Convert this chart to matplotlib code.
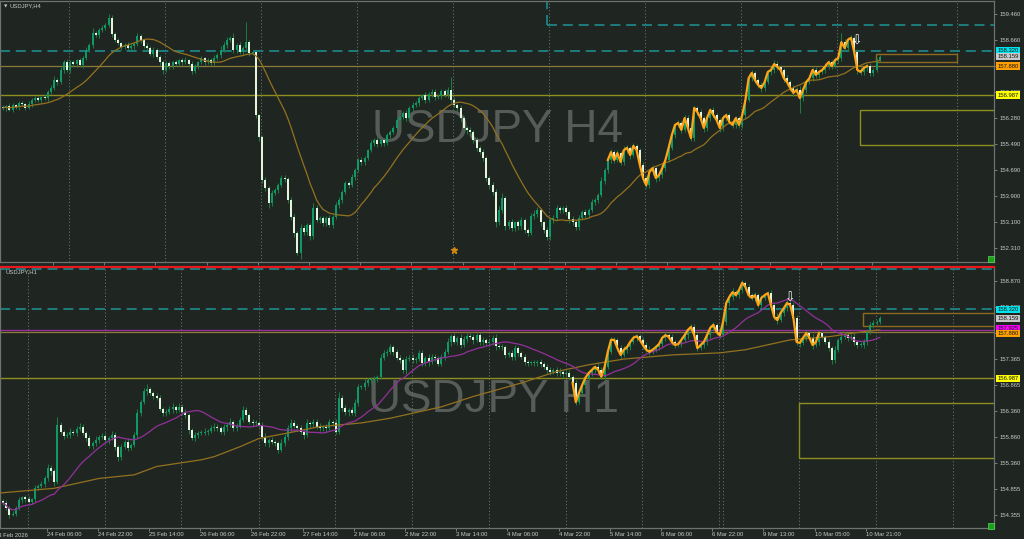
import matplotlib
matplotlib.use("Agg")
import matplotlib.pyplot as plt
from matplotlib.patches import Rectangle
from matplotlib.transforms import blended_transform_factory
import numpy as np
import pandas as pd

plt.rcParams['font.family'] = ['Liberation Sans', 'DejaVu Sans']

# ------------------------------------------------------------------ data
# USDJPY H4 closes (open of each bar = previous close)
h4_first_open = 156.62
h4_close = [
    156.59, 156.65, 156.53, 156.68, 156.62, 156.74, 156.71, 156.59, 156.71, 156.83,
    156.89, 156.83, 156.92, 156.89, 157.08, 157.20, 157.44, 157.38, 157.75, 157.99,
    157.75, 157.99, 157.93, 158.05, 157.90, 158.11, 158.36, 158.51, 158.88, 158.82,
    158.97, 159.03, 159.12, 159.34, 158.85, 158.67, 158.57, 158.45, 158.51, 158.42,
    158.48, 158.54, 158.79, 158.67, 158.48, 158.42, 158.24, 158.36, 158.15, 157.99,
    157.75, 157.96, 157.87, 157.99, 157.93, 158.05, 157.99, 158.05, 157.93, 157.72,
    157.87, 157.99, 158.11, 157.99, 158.05, 157.96, 158.11, 158.21, 158.36, 158.51,
    158.67, 158.73, 158.36, 158.51, 158.30, 158.42, 158.60, 158.27, 158.30, 156.37,
    155.70, 154.39, 154.14, 153.69, 153.99, 154.08, 154.23, 154.45, 154.43, 153.78,
    153.26, 152.77, 152.16, 152.92, 152.80, 153.01, 152.68, 153.53, 153.17, 153.23,
    153.07, 153.23, 153.01, 153.26, 153.62, 153.78, 154.02, 154.30, 154.24, 154.48,
    154.69, 155.00, 154.94, 155.06, 155.30, 155.52, 155.61, 155.49, 155.61, 155.52,
    155.76, 155.85, 155.98, 156.22, 156.31, 156.43, 156.28, 156.59, 156.68, 156.74,
    156.89, 156.98, 156.83, 157.01, 157.08, 156.92, 156.95, 157.11, 156.98, 157.14,
    156.83, 156.68, 156.59, 156.28, 155.98, 155.92, 155.85, 155.61, 155.37, 155.24,
    155.06, 154.45, 154.23, 154.02, 153.10, 153.47, 153.84, 152.98, 153.10, 152.92,
    153.10, 152.98, 153.17, 152.86, 152.77, 153.29, 153.35, 153.47, 153.10, 152.86,
    152.65, 153.17, 153.23, 153.53, 153.47, 153.53, 153.41, 153.20, 153.10, 152.95,
    153.23, 153.41, 153.32, 153.47, 153.72, 153.78, 153.93, 154.36, 154.69, 155.00,
    155.24, 155.00, 155.21, 154.94, 155.30, 155.37, 155.15, 155.43, 155.30, 154.85,
    154.45, 154.23, 154.63, 154.75, 154.45, 154.54, 154.75, 155.00, 155.37, 155.76,
    156.07, 156.13, 155.92, 156.28, 155.98, 155.67, 156.59, 156.46, 156.28, 155.98,
    156.28, 156.53, 156.37, 156.22, 155.98, 156.28, 156.37, 156.16, 156.07, 156.28,
    156.07, 156.37, 156.83, 157.50, 157.66, 157.44, 157.29, 157.20, 157.38, 157.69,
    157.75, 157.93, 157.84, 157.75, 157.50, 157.38, 157.20, 157.05, 157.14, 156.89,
    157.14, 157.38, 157.50, 157.75, 157.60, 157.69, 157.75, 157.87, 157.99, 157.87,
    158.05, 158.11, 158.60, 158.42, 158.67, 158.73, 158.30, 157.75, 157.69, 157.81,
    157.87, 157.66, 157.75, 158.05, 158.16,
]
# wick lengths above / below the body, in 0.01 yen
h4_wick_hi = [
    6, 4, 8, 5, 3, 7, 5, 4, 9, 6,   5, 8, 4, 6, 7, 10, 12, 5, 8, 6,
    9, 5, 7, 4, 6, 8, 10, 6, 15, 7,  5, 8, 6, 12, 9, 5, 7, 4, 6, 8,
    5, 7, 10, 6, 4, 8, 5, 9, 6, 7,   8, 5, 6, 4, 7, 5, 6, 9, 5, 8,
    6, 4, 7, 5, 8, 6, 9, 5, 12, 8,   10, 6, 14, 5, 8, 6, 61, 7, 5, 4,
    5, 5, 8, 6, 10, 5, 7, 9, 8, 6,   8, 10, 6, 12, 9, 7, 5, 15, 8, 6,
    7, 5, 9, 6, 10, 8, 6, 7, 5, 9,   8, 6, 10, 7, 5, 9, 6, 8, 7, 5,
    6, 8, 5, 9, 7, 6, 10, 5, 8, 6,   7, 5, 9, 6, 8, 10, 6, 7, 5, 8,
    40, 8, 6, 9, 5, 7, 10, 6, 8, 5,  9, 7, 6, 10, 8, 12, 15, 7, 6, 9,
    5, 8, 10, 6, 7, 9, 12, 8, 6, 5,  10, 6, 8, 9, 7, 5, 10, 6, 8, 7,
    9, 6, 8, 5, 10, 7, 6, 12, 8, 6,  10, 7, 9, 6, 12, 8, 7, 10, 6, 8,
    9, 6, 8, 10, 5, 7, 9, 6, 12, 8,  7, 10, 6, 9, 8, 12, 7, 6, 10, 5,
    8, 6, 9, 7, 5, 10, 8, 6, 9, 7,   6, 8, 10, 12, 9, 7, 6, 8, 10, 7,
    9, 12, 8, 6, 7, 10, 6, 8, 9, 12, 7, 6, 10, 8, 9, 6, 7, 10, 8, 6,
    9, 7, 28, 10, 8, 9, 6, 10, 8, 7, 6, 9, 7, 8, 6,
]
h4_wick_lo = [
    5, 8, 4, 7, 6, 9, 5, 6, 4, 8,    6, 5, 9, 7, 8, 6, 5, 10, 6, 8,
    7, 10, 5, 8, 6, 9, 7, 5, 8, 6,   9, 5, 7, 6, 10, 8, 6, 9, 5, 7,
    6, 8, 5, 9, 7, 10, 6, 8, 5, 9,   12, 6, 8, 10, 7, 5, 9, 6, 8, 10,
    7, 9, 5, 8, 6, 10, 7, 5, 8, 6,   9, 6, 8, 10, 7, 9, 12, 8, 6, 10,
    12, 8, 10, 15, 9, 7, 8, 6, 10, 8, 10, 12, 6, 20, 9, 8, 12, 10, 7, 9,
    8, 10, 6, 9, 7, 8, 10, 6, 9, 7,  8, 6, 9, 10, 7, 6, 8, 9, 6, 10,
    7, 9, 6, 8, 10, 7, 9, 6, 8, 7,   9, 6, 8, 7, 10, 8, 6, 9, 7, 8,
    9, 7, 10, 8, 6, 12, 8, 9, 10, 7, 8, 10, 12, 9, 15, 10, 8, 12, 9, 10,
    8, 12, 9, 10, 8, 7, 10, 9, 12, 10, 8, 10, 9, 7, 8, 10, 9, 12, 8, 10,
    9, 7, 10, 8, 6, 9, 8, 7, 10, 8,  8, 10, 7, 9, 8, 10, 12, 7, 9, 10,
    12, 9, 8, 10, 12, 8, 9, 10, 7, 8, 9, 7, 10, 8, 12, 9, 8, 10, 9, 12,
    8, 10, 7, 9, 12, 8, 10, 7, 9, 8, 10, 8, 9, 7, 8, 10, 9, 12, 8, 7,
    8, 10, 9, 7, 12, 9, 10, 8, 9, 46, 8, 10, 7, 9, 8, 10, 7, 9, 8, 10,
    7, 9, 8, 10, 9, 7, 10, 12, 9, 8, 10, 8, 9, 7, 6,
]

# USDJPY H1 closes (open of each bar = previous close)
h1_first_open = 154.62
h1_close = [
    154.59, 154.49, 154.36, 154.38, 154.49, 154.65, 154.70, 154.66, 154.61, 154.66,
    154.88, 154.91, 154.95, 155.07, 155.26, 155.20, 154.99, 156.09, 155.96, 155.88,
    155.90, 155.96, 155.94, 156.01, 156.05, 155.94, 155.84, 155.69, 155.74, 155.80,
    155.86, 155.88, 155.80, 155.84, 155.90, 155.67, 155.47, 155.67, 155.76, 155.65,
    155.70, 155.90, 156.32, 156.53, 156.74, 156.78, 156.71, 156.65, 156.61, 156.40,
    156.32, 156.34, 156.40, 156.44, 156.38, 156.44, 156.34, 156.28, 155.99, 155.84,
    155.90, 155.94, 155.94, 155.96, 155.97, 156.03, 156.05, 156.03, 155.96, 156.05,
    156.09, 156.15, 156.03, 156.07, 156.19, 156.38, 156.28, 156.15, 156.13, 156.13,
    156.09, 155.86, 155.74, 155.80, 155.76, 155.74, 155.61, 155.74, 155.86, 156.03,
    156.13, 156.07, 156.03, 155.96, 155.90, 156.13, 156.11, 156.15, 156.05, 156.03,
    156.05, 156.03, 156.15, 156.13, 155.96, 156.61, 156.42, 156.34, 156.38, 156.32,
    156.51, 156.82, 156.82, 156.90, 156.96, 156.96, 156.98, 157.02, 157.38, 157.48,
    157.50, 157.59, 157.50, 157.38, 157.34, 157.15, 157.36, 157.38, 157.34, 157.36,
    157.48, 157.28, 157.38, 157.30, 157.40, 157.38, 157.27, 157.40, 157.50, 157.69,
    157.80, 157.69, 157.77, 157.63, 157.75, 157.80, 157.79, 157.73, 157.82, 157.69,
    157.73, 157.67, 157.69, 157.77, 157.61, 157.59, 157.59, 157.44, 157.48, 157.40,
    157.57, 157.48, 157.40, 157.30, 157.28, 157.28, 157.28, 157.30, 157.27, 157.21,
    157.15, 157.11, 157.15, 157.09, 157.11, 157.07, 157.09, 157.02, 156.90, 156.53,
    156.71, 156.86, 157.00, 157.09, 157.15, 157.21, 157.15, 157.02, 157.21, 157.50,
    157.73, 157.73, 157.57, 157.44, 157.54, 157.59, 157.69, 157.77, 157.80, 157.73,
    157.63, 157.54, 157.50, 157.54, 157.59, 157.65, 157.77, 157.82, 157.79, 157.69,
    157.63, 157.65, 157.73, 157.82, 157.92, 157.98, 157.82, 157.57, 157.63, 157.69,
    157.82, 157.96, 158.02, 157.88, 157.82, 158.07, 158.44, 158.56, 158.65, 158.59,
    158.69, 158.83, 158.75, 158.59, 158.54, 158.59, 158.40, 158.54, 158.59, 158.63,
    158.40, 158.17, 158.11, 158.25, 158.34, 158.44, 158.40, 158.15, 157.69, 157.67,
    157.77, 157.86, 157.77, 157.63, 157.69, 157.86, 157.79, 157.69, 157.57, 157.34,
    157.54, 157.73, 157.79, 157.82, 157.77, 157.79, 157.69, 157.63, 157.63, 157.69,
    157.88, 158.02, 158.06, 158.07, 158.16,
]
h1_wick_hi = [
    4, 5, 3, 6, 4, 5, 3, 4, 6, 3,   5, 4, 6, 3, 8, 5, 4, 15, 6, 4,
    5, 7, 4, 6, 8, 5, 4, 6, 5, 7,   4, 6, 5, 3, 7, 5, 4, 6, 5, 8,
    4, 6, 8, 5, 7, 10, 5, 4, 6, 5,  4, 6, 5, 7, 4, 8, 5, 6, 4, 5,
    6, 4, 5, 7, 4, 6, 8, 5, 4, 6,   5, 7, 4, 6, 5, 8, 6, 4, 5, 6,
    4, 5, 7, 4, 6, 5, 4, 8, 5, 6,   7, 5, 4, 6, 5, 8, 4, 6, 5, 7,
    4, 6, 5, 4, 7, 12, 6, 5, 4, 6,  8, 6, 5, 7, 4, 6, 5, 4, 8, 6,
    5, 7, 4, 6, 5, 4, 6, 5, 7, 4,   6, 5, 4, 7, 5, 6, 4, 5, 6, 8,
    5, 6, 4, 7, 5, 6, 8, 5, 4, 6,   5, 4, 6, 5, 7, 4, 6, 5, 4, 6,
    7, 5, 4, 6, 5, 4, 6, 5, 7, 4,   5, 6, 4, 5, 7, 4, 6, 5, 4, 6,
    5, 7, 4, 6, 5, 4, 7, 5, 6, 8,   6, 5, 4, 6, 7, 5, 4, 6, 5, 4,
    6, 5, 7, 4, 5, 6, 4, 7, 5, 6,   4, 6, 5, 7, 4, 5, 6, 4, 5, 7,
    4, 6, 5, 4, 6, 8, 6, 5, 7, 5,   6, 5, 4, 6, 5, 7, 4, 6, 5, 4,
    6, 5, 7, 4, 6, 5, 4, 6, 5, 7,   4, 6, 5, 7, 4, 6, 5, 4, 6, 5,
    7, 4, 5, 6, 4, 5, 7, 4, 6, 5,   4, 6, 5, 4, 3,
]
h1_wick_lo = [
    5, 4, 6, 3, 5, 4, 6, 5, 3, 4,   6, 5, 4, 6, 5, 7, 8, 4, 5, 6,
    4, 6, 5, 7, 4, 5, 6, 4, 7, 5,   6, 4, 5, 7, 4, 6, 8, 5, 4, 6,
    5, 4, 6, 5, 4, 7, 5, 6, 4, 5,   6, 5, 4, 7, 5, 4, 6, 5, 7, 4,
    5, 6, 4, 5, 7, 4, 6, 5, 4, 6,   7, 4, 5, 6, 4, 5, 7, 4, 6, 5,
    4, 6, 5, 7, 4, 6, 5, 4, 6, 5,   7, 4, 6, 5, 8, 4, 6, 5, 4, 6,
    5, 7, 4, 6, 5, 4, 6, 5, 7, 4,   6, 5, 4, 6, 5, 7, 4, 6, 5, 4,
    6, 5, 7, 4, 6, 5, 8, 4, 6, 5,   4, 6, 5, 7, 4, 6, 5, 4, 6, 5,
    7, 4, 6, 5, 4, 6, 5, 7, 4, 6,   5, 4, 6, 5, 7, 4, 6, 5, 4, 6,
    5, 7, 4, 6, 5, 4, 6, 5, 7, 4,   6, 5, 4, 6, 5, 7, 4, 6, 5, 6,
    4, 6, 5, 4, 6, 5, 7, 4, 6, 5,   4, 6, 5, 7, 4, 6, 5, 4, 6, 5,
    7, 4, 6, 5, 4, 6, 5, 7, 4, 6,   5, 4, 6, 5, 7, 4, 6, 5, 4, 6,
    5, 7, 4, 6, 5, 4, 6, 5, 7, 4,   6, 5, 4, 6, 5, 7, 4, 6, 5, 4,
    6, 5, 7, 4, 6, 5, 4, 6, 5, 7,   4, 6, 5, 7, 4, 6, 5, 4, 6, 8,
    5, 4, 6, 5, 7, 4, 6, 5, 4, 6,   5, 4, 6, 5, 4,
]
# slow moving average on H1
h1_slow_ma_bar = [-1, 16, 30, 41, 48, 62, 66, 74, 80, 91, 99, 105, 112, 121, 137,
                  147, 162, 173, 183, 194, 209, 224, 232, 246, 258, 269, 274]
h1_slow_ma_val = [154.78, 154.87, 155.06, 155.13, 155.29, 155.42, 155.48, 155.67,
                  155.83, 155.96, 156.06, 156.09, 156.13, 156.22, 156.44, 156.64,
                  156.90, 157.12, 157.25, 157.36, 157.44, 157.48, 157.54, 157.73,
                  157.79, 157.89, 157.92]

h4_ticks = [159.460, 158.660, 157.870, 157.080, 156.280, 155.490, 154.690,
            153.900, 153.100, 152.310]
h4_tick_text = ["159.460", "158.660", "", "157.080", "156.280", "155.490",
                "154.690", "153.900", "153.100", "152.310"]
h1_ticks = [158.870, 158.370, 157.865, 157.365, 156.865, 156.360, 155.860,
            155.360, 154.855, 154.355]
h1_tick_text = ["158.870", "158.370", "", "157.365", "156.865", "156.360",
                "155.860", "155.360", "154.855", "154.355"]
h1_time_labels = ["24 Feb 06:00", "24 Feb 22:00", "25 Feb 14:00", "26 Feb 06:00",
                  "26 Feb 22:00", "27 Feb 14:00", "2 Mar 06:00", "2 Mar 22:00",
                  "3 Mar 14:00", "4 Mar 06:00", "4 Mar 22:00", "5 Mar 14:00",
                  "6 Mar 06:00", "6 Mar 22:00", "9 Mar 13:00", "10 Mar 05:00",
                  "10 Mar 21:00"]
h1_first_label = "23 Feb 2026"

level_res_dash = 158.320     # cyan dashed
level_top_dash = 159.124     # cyan dashed (H4, right part)
level_bid = 158.159
level_tan = 157.880
level_purple = 157.925
level_yellow = 156.987
zone_lo, zone_hi = 155.45, 156.52
box_lo, box_hi = 157.99, 158.25

# ------------------------------------------------------------------ style
BG = '#1f2622'
BULL = '#0d9a68'
BEAR = '#e3f4dd'
WICK = '#1f7d42'
GRIDC = '#68716c'
TXT = '#c6cac8'
CYAN = '#1d8b8e'
TAN = '#8e7a36'
OLIVE = '#8f8f1d'
PURPLE = '#93309a'
MA_TAN = '#93711f'
ORANGE = '#ffa414'
SPINE = '#6e7270'
WM = '#575c59'

W, H = 1024, 539
fig = plt.figure(figsize=(W / 100, H / 100), dpi=100, facecolor=BG)


def fx(px):
    return px / W


def fy(py):
    return 1 - py / H


SP = 3.2          # pixels per bar
X0 = 3.0          # pixel of bar 0
x_left = (0 - X0) / SP
x_right = (994 - X0) / SP

ax1 = fig.add_axes([0, fy(262), fx(994), (262 - 1) / H], facecolor=BG)
ax2 = fig.add_axes([0, fy(528), fx(994), (528 - 267) / H], facecolor=BG)

ax1.set_ylim(159.888 - 262 / 32.73, 159.888 - 1 / 32.73)
ax2.set_ylim(159.115 - 260 / 51.9, 159.134)
for ax in (ax1, ax2):
    ax.set_xlim(x_left, x_right)
    for s in ax.spines.values():
        s.set_color(SPINE)
        s.set_linewidth(0.9)
ax2.spines['top'].set_color('#e8191c')
ax2.spines['top'].set_linewidth(1.6)


def candles(ax, first_open, close, whi, wlo, min_body):
    n = min(len(close), len(whi), len(wlo))
    c = np.array(close[:n], dtype=float)
    o = np.concatenate([[first_open], c[:-1]])
    idx = np.arange(n)
    hi = np.maximum(o, c) + np.array(whi[:n]) / 100
    lo = np.minimum(o, c) - np.array(wlo[:n]) / 100
    ax.vlines(idx, lo, hi, color=WICK, lw=0.7, zorder=3)
    up = c >= o
    bottom = np.minimum(o, c)
    height = np.maximum(np.abs(c - o), min_body)
    ax.bar(idx[up], height[up], bottom=bottom[up], width=0.62, color=BULL,
           linewidth=0, zorder=4)
    ax.bar(idx[~up], height[~up], bottom=bottom[~up], width=0.62, color=BEAR,
           linewidth=0, zorder=4)
    return idx, c


# ---------------------------------------------------------------- grids
h4_grid_bars = [20.6, 50.6, 80.6, 110.6, 140.6, 170.6, 200.6, 230.6, 260.6, 298.1]
h1_grid_bars = [7.7, 31.8, 55.6, 80.0, 103.7, 127.9, 151.9, 175.8, 199.8, 223.8,
                224.9, 248.7, 272.8, 296.9]
for gx in h4_grid_bars:
    ax1.axvline(gx, color=GRIDC, lw=0.7, ls=(0, (1.2, 2.2)), zorder=1)
for gx in h1_grid_bars:
    ax2.axvline(gx, color=GRIDC, lw=0.7, ls=(0, (1.2, 2.2)), zorder=1)

# ---------------------------------------------------------------- watermarks
ax1.text(0.501, 0.505, "USDJPY H4", transform=ax1.transAxes, ha='center',
         va='center', fontsize=33, color=WM, zorder=0.5)
ax2.text(0.496, 0.49, "USDJPY H1", transform=ax2.transAxes, ha='center',
         va='center', fontsize=33, color=WM, zorder=0.5)

# ---------------------------------------------------------------- H4 panel
dash = (0, (6, 3.5))
ax1.axhline(level_res_dash, color=CYAN, lw=1.2, ls=dash, zorder=2)
bx = (547 - X0) / SP
ax1.hlines(level_top_dash, bx, x_right, color=CYAN, lw=1.2, ls=dash, zorder=2)
ax1.vlines(bx, level_top_dash, 160.5, color=CYAN, lw=1.2, ls=dash, zorder=2)
ax1.axhline(level_tan, color=TAN, lw=0.9, zorder=2)
ax1.axhline(level_yellow, color=OLIVE, lw=1.0, zorder=2)
zx = (860 - X0) / SP
ax1.add_patch(Rectangle((zx, zone_lo), x_right + 5 - zx, zone_hi - zone_lo,
                        fill=False, ec=OLIVE, lw=1.0, zorder=2))
sx0, sx1 = (876 - X0) / SP, (957 - X0) / SP
ax1.add_patch(Rectangle((sx0, box_lo), sx1 - sx0, box_hi - box_lo,
                        fill=False, ec='#8c6a1f', lw=1.0, zorder=2))

i4, c4 = candles(ax1, h4_first_open, h4_close, h4_wick_hi, h4_wick_lo, 0.025)
ma4 = pd.Series(c4).rolling(20, min_periods=1).mean()
ax1.plot(i4, ma4, color=MA_TAN, lw=0.9, zorder=5)
ax1.plot(i4[189:271], c4[189:271], color=ORANGE, lw=1.6, zorder=6,
         solid_joinstyle='round')
ax1.text((857 - X0) / SP, 158.64, "\u21e9", ha='center', va='center',
         fontsize=9, color='white', zorder=7, family='DejaVu Sans')
ax1.plot([(454 - X0) / SP], [152.25], marker='*', ms=4.5, color='#d4870e',
         zorder=7)

# ---------------------------------------------------------------- H1 panel
ax2.axhline(level_res_dash, color=CYAN, lw=1.2, ls=dash, zorder=2)
ax2.axhline(159.09, color=CYAN, lw=1.2, ls=dash, zorder=2)
ax2.axhline(level_purple, color=PURPLE, lw=1.0, zorder=2)
ax2.axhline(level_tan, color=TAN, lw=0.9, zorder=2)
ax2.axhline(level_yellow, color=OLIVE, lw=1.0, zorder=2)
zx2 = (799 - X0) / SP
ax2.add_patch(Rectangle((zx2, zone_lo), x_right + 5 - zx2, zone_hi - zone_lo,
                        fill=False, ec=OLIVE, lw=1.0, zorder=2))
bx2 = (863 - X0) / SP
ax2.add_patch(Rectangle((bx2, box_lo), x_right + 5 - bx2, box_hi - box_lo,
                        fill=False, ec='#8c6a1f', lw=1.0, zorder=2))

i1, c1 = candles(ax2, h1_first_open, h1_close, h1_wick_hi, h1_wick_lo, 0.015)
ma1 = pd.Series(c1).rolling(20, min_periods=1).mean()
ax2.plot(h1_slow_ma_bar, h1_slow_ma_val, color=MA_TAN, lw=0.9, zorder=5)
ax2.plot(i1, ma1, color=PURPLE, lw=0.9, zorder=5)
ax2.plot(i1[178:256], c1[178:256], color=ORANGE, lw=1.6, zorder=6,
         solid_joinstyle='round')
ax2.text((790 - X0) / SP, 158.54, "\u21e9", ha='center', va='center',
         fontsize=9, color='white', zorder=7, family='DejaVu Sans')

# ---------------------------------------------------------------- axes ticks
for ax, ticks, texts in ((ax1, h4_ticks, h4_tick_text), (ax2, h1_ticks, h1_tick_text)):
    ax.yaxis.tick_right()
    ax.set_yticks(ticks)
    ax.set_yticklabels(texts)
    ax.tick_params(axis='y', length=2.5, width=0.6, color='#8a8a8a',
                   labelsize=4.2, labelcolor=TXT, pad=1.5)

h4_tick_bars = [15.6 + 16 * k for k in range(17)]
ax1.set_xticks(h4_tick_bars)
ax1.set_xticklabels([])
ax1.tick_params(axis='x', length=2, width=0.6, color='#8a8a8a', direction='out')

lab_bars = [(46.7 - X0) / SP + 16 * k for k in range(len(h1_time_labels))]
ax2.set_xticks(lab_bars)
ax2.set_xticklabels(h1_time_labels)
ax2.tick_params(axis='x', length=2, width=0.6, color='#8a8a8a',
                labelsize=4.2, labelcolor=TXT, pad=1.2)
for lab in ax2.get_xticklabels():
    lab.set_ha('left')
ax2.text(lab_bars[0] - 16 - 0.3, -0.018, h1_first_label,
         transform=blended_transform_factory(ax2.transData, ax2.transAxes),
         ha='left', va='top', fontsize=4.2, color=TXT, clip_on=False)


# ---------------------------------------------------------------- price tags
def tag(ax, price, text, fc, tc='#101418'):
    tr = blended_transform_factory(ax.transAxes, ax.transData)
    ax.text(1.0035, price, text, transform=tr, fontsize=4.2, ha='left',
            va='center', color=tc, clip_on=False, zorder=10,
            bbox=dict(boxstyle='square,pad=0.18', fc=fc, ec='none'))


tag(ax1, 158.33, "158.320", '#00e3ea')
tag(ax1, 158.15, "158.159", '#c8c8c8')
tag(ax1, 157.87, "157.880", '#ffa000')
tag(ax1, 156.985, "156.987", '#ffff00')

tag(ax2, 158.32, "158.320", '#00e3ea')
tag(ax2, 158.15, "158.159", '#c8c8c8')
tag(ax2, 157.94, "157.925", '#ff00ff')
tag(ax2, 157.85, "157.880", '#ffa000')
tag(ax2, 156.99, "156.987", '#ffff00')

# ---------------------------------------------------------------- titles etc
fig.text(fx(4), fy(6), "\u25bc", fontsize=3.2, color=TXT, va='center',
         family='DejaVu Sans')
fig.text(fx(10), fy(6), "USDJPY,H4", fontsize=4.2, color=TXT, va='center')
fig.text(fx(5), fy(272), "USDJPY,H1", fontsize=4.2, color=TXT, va='center')

for py in (256, 523):
    fig.add_artist(Rectangle((fx(987.5), fy(py + 6)), 6 / W, 6 / H,
                             transform=fig.transFigure, fc='#1aa01a',
                             ec='#5cd65c', lw=0.5))

fig.savefig("out.png", dpi=100, facecolor=BG)
